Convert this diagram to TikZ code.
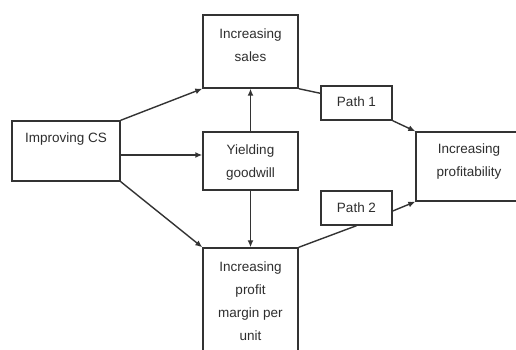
\documentclass[tikz,border=0pt]{standalone}
\usepackage{fontspec}
\setmainfont{Liberation Sans}
\usetikzlibrary{arrows.meta,calc}
\definecolor{ln}{HTML}{333333}
\definecolor{tx}{HTML}{2E2E2E}
\tikzset{
  box/.style={draw=ln, line width=1.4pt, rectangle, inner sep=0pt},
  txt/.style={text=tx, align=center, font=\fontsize{13.5}{23}\selectfont, inner sep=0pt},
  con/.style={draw=ln, line width=1.4pt},
  arr/.style={con, -{Latex[length=7pt,width=6pt]}}
}
\begin{document}
\begin{tikzpicture}[x=1pt,y=1pt]
\useasboundingbox (0,0) rectangle (516,350);
\clip (0,0) rectangle (516,350);
\fill[white] (0,0) rectangle (516,350);
% boxes
\node[box, minimum width=95pt, minimum height=73pt] (sales) at (250.5,298.5) {};
\node[box, minimum width=108pt, minimum height=60pt] (cs) at (66,199) {};
\node[box, minimum width=95pt, minimum height=58pt] (gw) at (250.5,189) {};
\node[box, minimum width=95pt, minimum height=114pt] (profit) at (250.5,45) {};
\node[box, minimum width=71pt, minimum height=34pt] (p1) at (356.5,247) {};
\node[box, minimum width=71pt, minimum height=34pt] (p2) at (356.5,142) {};
\node[box, minimum width=110pt, minimum height=69pt] (prof) at (471,183.5) {};
% texts
\node[txt] (salesT) at (250.5,304.5) {Increasing\\sales};
\node[txt] (csT) at (66,211) {Improving CS};
\node[txt] (gwT) at (250.5,187) {Yielding\\goodwill};
\node[txt] (profitT) at (250.5,49) {Increasing\\profit\\margin per\\unit};
\node[txt] (p1T) at (356.5,248) {Path 1};
\node[txt] (p2T) at (356.5,142) {Path 2};
\node[txt] (profT) at (469,188) {Increasing\\profitability};
% connectors
\draw[arr] (cs.north east) -- (sales.south west);
\draw[arr] ([yshift=-4pt]cs.east) -- ([yshift=-4pt]cs.east -| gw.west);
\draw[arr] (cs.south east) -- (profit.north west);
\draw[arr] (gw.north) -- (sales.south);
\draw[arr] (gw.south) -- (profit.north);
\draw[con] (sales.south east) -- ([yshift=-8pt]p1.north west);
\draw[arr] (p1.south east) -- (prof.north west);
\draw[arr] ([yshift=-3pt]p2.east) -- (prof.south west);
\draw[con] (p2.south) -- (profit.north east);
\end{tikzpicture}
\end{document}
